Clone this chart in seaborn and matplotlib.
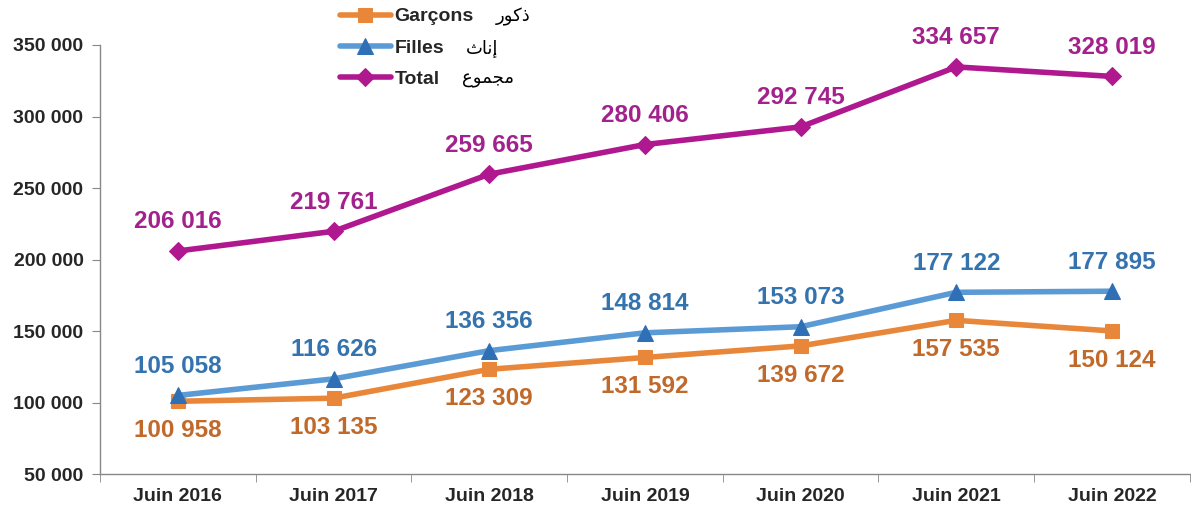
import pandas as pd
import seaborn as sns
import matplotlib.pyplot as plt
import matplotlib.ticker as mticker
import numpy as np

# --- data ---
years = ['Juin 2016', 'Juin 2017', 'Juin 2018', 'Juin 2019', 'Juin 2020', 'Juin 2021', 'Juin 2022']
garcons = [100958, 103135, 123309, 131592, 139672, 157535, 150124]
filles = [105058, 116626, 136356, 148814, 153073, 177122, 177895]
total = [206016, 219761, 259665, 280406, 292745, 334657, 328019]

# Arabic names, written as presentation forms in visual order (matplotlib does no shaping)
ar_garcons = '\uFEAD\uFEEE\uFEDB\uFEAB'          # ذكور
ar_filles = '\uFE99\uFE8E\uFEE7\uFE87'           # إناث
ar_total = '\uFEC9\uFEEE\uFEE4\uFEA0\uFEE3'      # مجموع

df = pd.DataFrame({'year': years, 'Garçons': garcons, 'Filles': filles, 'Total': total})
df['x'] = np.arange(len(years))

sns.set_style("white")
plt.rcParams['font.family'] = ['Liberation Sans', 'DejaVu Sans']
plt.rcParams['font.weight'] = 'bold'

fig = plt.figure(figsize=(11.91, 5.11), dpi=100)
ax = fig.add_axes([0.084, 0.072, 0.915, 0.84])

series = [
    ('Garçons', garcons, '#E8873A', '#E8873A', 's', 10, '#C0692A', -1, ar_garcons),
    ('Filles', filles, '#5B9BD5', '#2F6FB5', '^', 12, '#3473AD', 1, ar_filles),
    ('Total', total, '#B0188F', '#B0188F', 'D', 9, '#A3218C', 1, ar_total),
]

for name, vals, col, mcol, mk, ms, lcol, side, _ in series:
    sns.lineplot(data=df, x='x', y=name, ax=ax, color=col, linewidth=4,
                 marker=mk, markersize=ms, markerfacecolor=mcol,
                 markeredgecolor=mcol, label=name)
    for i, v in enumerate(vals):
        ax.annotate(f"{v:,}".replace(",", " "), (i, v),
                    xytext=(0, 21 * side), textcoords='offset points',
                    ha='center', va='center', fontsize=17.5, color=lcol,
                    fontweight='bold')

ax.set_xlim(-0.5, len(years) - 0.5)
ax.set_ylim(50000, 350000)
ax.set_xlabel('')
ax.set_ylabel('')

ax.yaxis.set_major_locator(mticker.MultipleLocator(50000))
ax.yaxis.set_major_formatter(mticker.FuncFormatter(lambda v, p: f"{int(v):,}".replace(",", " ")))
ax.set_xticks(df['x'])
ax.set_xticklabels(years)
ax.xaxis.set_minor_locator(mticker.FixedLocator(np.arange(-0.5, len(years), 1.0)))
ax.tick_params(axis='x', which='major', length=0, pad=10, labelsize=14)
ax.tick_params(axis='x', which='minor', length=6, color='#888888', direction='out', bottom=True)
ax.tick_params(axis='y', length=6, color='#888888', direction='out', left=True, labelsize=14, pad=6)

for s in ['top', 'right']:
    ax.spines[s].set_visible(False)
for s in ['left', 'bottom']:
    ax.spines[s].set_color('#888888')
    ax.spines[s].set_linewidth(1)

leg = ax.legend(loc='upper left', bbox_to_anchor=(0.279, 1.0), bbox_transform=fig.transFigure,
                frameon=False, fontsize=14, handlelength=2.6, handletextpad=0.2,
                labelspacing=0.7, borderaxespad=0)
for t in leg.get_texts():
    t.set_fontweight('bold')

# put the Arabic words to the right of each legend entry
fig.canvas.draw()
inv = fig.transFigure.inverted()
for t, s in zip(leg.get_texts(), series):
    bb = t.get_window_extent()
    x0, y0 = inv.transform((bb.x1 + 22, (bb.y0 + bb.y1) / 2))
    fig.text(x0, y0, s[8], family='DejaVu Sans', fontweight='normal',
             fontsize=13, va='center', ha='left', color='black')

fig.savefig('out.png', dpi=100)
